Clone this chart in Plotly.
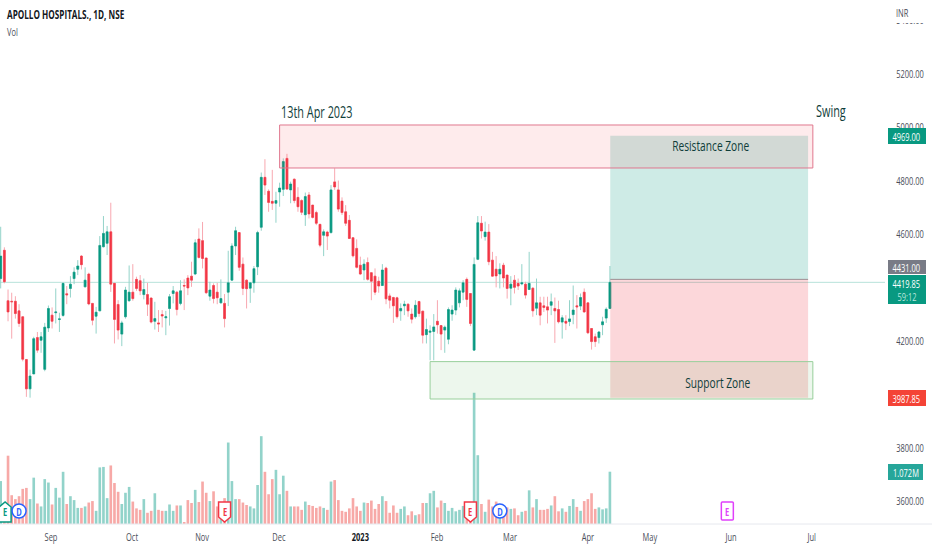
import plotly.graph_objects as go

opens = [4434,4540,4351,4349,4349,4313,4291,4131,4021,4077,
4213,4203,4094,4249,4297,4306,4281,4296,4377,4397,
4434,4469,4518,4403,4451,4341,4293,4313,4553,4566,
4609,4416,4337,4226,4291,4351,4383,4431,4426,4374,
4374,4361,4274,4268,4299,4287,4322,4378,4383,4341,
4408,4436,4443,4451,4582,4576,4511,4368,
4408,4383,4343,4341,4383,4428,4556,4606,4488,4428,
4398,4418,4478,4626,4813,4761,4723,4716,4758,4768,
4884,4766,4806,4738,4726,4673,4747,4709,4681,4637,
4596,4608,4606,4796,4766,4724,4684,4652,4587,4547,
4484,4466,4494,4456,4443,4424,4408,4473,4369,4363,
4362,4313,4332,4338,4301,4291,4348,
4312,4224,4233,4236,4274,4258,4241,4207,4301,4316,
4343,4383,4431,4378,4166,4506,4641,4591,4608,4503,
4469,4451,4484,4447,4398,4428,4416,4414,4413,4393,
4398,4323,4343,4332,4328,4334,4322,4318,4271,4274,
4273,4299,4332,4331,4383,4343,4247,4216,4213,4261,
4286,4322]

highs = [4628,4551,4393,4381,4368,4338,4291,4131,4093,4216,
4234,4234,4268,4333,4326,4397,4306,4418,4406,4443,
4476,4503,4522,4476,4456,4341,4328,4593,4668,4631,
4718,4416,4353,4276,4403,4483,4488,4441,4447,4434,
4418,4363,4347,4316,4316,4313,4376,4406,4388,4428,
4431,4447,4497,4581,4622,4646,4511,4422,
4416,4418,4431,4376,4538,4566,4628,4606,4513,4431,
4418,4481,4613,4831,4881,4768,4841,4759,4793,4884,
4901,4797,4809,4776,4731,4756,4758,4709,4688,4637,
4618,4613,4784,4847,4801,4738,4709,4672,4587,4581,
4516,4506,4513,4456,4472,4441,4488,4478,4378,4366,
4366,4341,4351,4341,4322,4353,4351,
4313,4284,4259,4301,4353,4258,4258,4326,4334,4401,
4397,4428,4438,4378,4513,4668,4668,4647,4638,4534,
4518,4491,4493,4447,4443,4447,4434,4488,4422,4534,
4401,4434,4366,4366,4366,4378,4363,4351,4297,4297,
4353,4408,4372,4378,4397,4343,4247,4228,4238,4291,
4326,4481]

lows = [4397,4416,4274,4209,4284,4253,4124,3991,3988,4077,
4156,4156,4087,4234,4247,4266,4234,4291,4338,4363,
4413,4447,4468,4401,4334,4259,4228,4313,4551,4522,
4384,4191,4206,4181,4284,4347,4351,4388,4372,4356,
4294,4266,4243,4234,4251,4222,4258,4341,4296,4334,
4316,4372,4403,4447,4509,4472,4376,4351,
4341,4338,4341,4251,4331,4426,4522,4463,4372,4322,
4343,4381,4447,4613,4747,4684,4691,4643,4703,4743,
4766,4716,4716,4684,4672,4631,4659,4659,4634,4551,
4518,4541,4603,4766,4684,4672,4631,4582,4513,4472,
4447,4428,4426,4353,4372,4381,4406,4338,4322,4268,
4284,4276,4297,4291,4266,4284,4291,
4191,4191,4128,4128,4228,4166,4156,4188,4276,4297,
4326,4353,4328,4256,4166,4503,4584,4576,4484,4441,
4401,4397,4401,4359,4334,4378,4391,4409,4359,4391,
4291,4297,4259,4309,4266,4297,4193,4266,4209,4241,
4256,4263,4247,4316,4306,4226,4168,4178,4191,4222,
4268,4322]

closes = [4518,4422,4309,4347,4303,4266,4132,4021,4069,4209,
4166,4216,4252,4322,4274,4309,4283,4416,4373,4413,
4458,4481,4486,4428,4339,4278,4308,4558,4603,4609,
4413,4281,4241,4268,4391,4383,4359,4397,4388,4393,
4338,4271,4284,4264,4294,4291,4366,4388,4318,4388,
4406,4399,4428,4568,4513,4509,4381,4391,
4359,4362,4359,4284,4418,4556,4613,4476,4397,4396,
4418,4471,4606,4813,4784,4719,4716,4726,4773,4872,
4769,4788,4726,4703,4682,4741,4676,4663,4641,4559,
4609,4593,4766,4777,4694,4681,4641,4584,4519,4476,
4451,4488,4431,4424,4383,4406,4466,4358,4353,4332,
4291,4322,4338,4313,4282,4334,4303,
4222,4243,4237,4253,4261,4226,4252,4318,4316,4391,
4388,4418,4356,4266,4487,4643,4612,4608,4497,4443,
4444,4469,4436,4397,4413,4401,4406,4418,4372,4416,
4313,4343,4297,4326,4316,4347,4313,4272,4287,4267,
4283,4316,4328,4363,4309,4231,4198,4198,4234,4272,
4319,4419.85]

# volume in millions
volumes = [0.88,0.36,1.40,0.59,0.51,0.57,0.72,0.74,0.51,0.95,
0.42,0.36,0.92,0.85,0.40,0.74,0.54,1.07,0.41,0.57,
0.49,0.33,0.33,0.36,0.44,0.47,0.27,1.16,1.17,0.53,
1.20,0.84,0.66,0.41,0.64,0.76,0.46,0.32,0.29,0.51,
0.23,0.27,0.63,0.29,0.27,0.27,0.40,0.27,0.38,0.38,
0.04,0.49,0.43,0.70,0.45,0.87,0.64,0.47,0.67,0.36,
0.27,0.53,1.67,0.88,0.51,0.51,0.44,0.39,0.36,0.32,
0.80,1.80,1.07,0.61,0.92,1.11,0.61,0.99,0.68,0.36,
0.36,0.36,0.29,0.46,0.39,0.37,0.33,0.36,0.33,0.29,
0.87,0.90,0.49,0.27,0.25,0.32,0.53,0.36,0.27,0.44,
0.43,0.48,0.31,0.41,0.57,0.47,0.23,0.38,0.23,0.31,
0.36,0.18,0.26,0.18,0.20,0.43,0.43,0.63,0.68,0.34,
0.48,0.43,0.27,0.33,0.26,0.29,0.37,0.42,0.39,2.69,
1.41,0.41,0.25,0.50,0.36,0.46,0.36,0.34,0.34,0.31,
0.32,0.18,0.25,0.27,0.69,0.34,0.51,0.29,0.29,0.31,
0.38,0.57,0.26,0.32,0.25,0.37,0.51,0.35,0.27,0.47,
0.51,0.63,0.31,0.34,0.30,0.32,1.072]

bars = list(range(len(closes)))

month_bars = [13.7, 35.8, 54.9, 75.8, 98, 118.9, 138.8, 160, 176.9, 199, 221]
month_labels = ["Sep", "Oct", "Nov", "Dec", "<span style='color:#131722'><b>2023</b></span>",
                "Feb", "Mar", "Apr", "May", "Jun", "Jul"]

price_ticks = [3600, 3800, 4200, 4600, 4800, 5000, 5200, 5400]

entry_price = 4431
target_price = 4969
stop_price = 3987.85
last_price = 4419.85
last_volume = "1.072M"

GREEN = "#089981"
RED = "#f23645"
FONT = "Open Sans, sans-serif"
PLOT_W = 885
PLOT_H = 524

wick_colors = dict(inc="#93d3c9", dec="#f8a8b0")
vol_colors = ["#92d3ca" if c >= o else "#f7a9a7" for o, c in zip(opens, closes)]

fig = go.Figure()

fig.add_trace(go.Bar(x=bars, y=volumes, marker=dict(color=vol_colors, line_width=0),
                     width=0.72, yaxis="y"))

# wicks first, bodies over them so the wicks can stay paler
fig.add_trace(go.Candlestick(
    x=bars, open=opens, high=highs, low=lows, close=closes, yaxis="y2",
    whiskerwidth=0,
    increasing=dict(line=dict(color=wick_colors["inc"], width=1), fillcolor=wick_colors["inc"]),
    decreasing=dict(line=dict(color=wick_colors["dec"], width=1), fillcolor=wick_colors["dec"]),
))
fig.add_trace(go.Candlestick(
    x=bars, open=opens, close=closes, yaxis="y2",
    high=[max(o, c) for o, c in zip(opens, closes)],
    low=[min(o, c) for o, c in zip(opens, closes)],
    whiskerwidth=0,
    increasing=dict(line=dict(color=GREEN, width=0.5), fillcolor=GREEN),
    decreasing=dict(line=dict(color=RED, width=0.5), fillcolor=RED),
))

fig.update_layout(
    width=932, height=550,
    margin=dict(l=0, r=932 - PLOT_W, t=0, b=550 - PLOT_H, autoexpand=False),
    paper_bgcolor="white", plot_bgcolor="white",
    showlegend=False,
    boxgap=0.28,
    font=dict(family=FONT, color="#4a4e59", size=11),
    xaxis=dict(range=[-0.19, 240.96], rangeslider_visible=False, showgrid=False, zeroline=False,
               automargin=False, tickmode="array", tickvals=month_bars, ticktext=month_labels,
               ticks="outside", ticklen=3, tickcolor="rgba(0,0,0,0)",
               tickfont=dict(size=11, color="#4a4e59")),
    yaxis=dict(range=[0, 10.74], visible=False, fixedrange=True, automargin=False),
    yaxis2=dict(range=[3515, 5477], overlaying="y", side="right", showgrid=False, zeroline=False,
                automargin=False, tickmode="array", tickvals=price_ticks, tickformat=".2f",
                ticks="outside", ticklen=8, tickcolor="rgba(0,0,0,0)",
                tickfont=dict(size=11, color="#4a4e59")),
)

# last price line
fig.add_shape(type="line", xref="paper", yref="y2", x0=0, x1=1, y0=last_price, y1=last_price,
              line=dict(color="#b7e2da", width=1), layer="below")
# bottom border of the pane
fig.add_shape(type="line", xref="paper", yref="paper", x0=0, x1=932 / PLOT_W, y0=0, y1=0,
              line=dict(color="#e6e8ee", width=1))

# long position tool
fig.add_shape(type="rect", xref="x", yref="y2", x0=166.1, x1=220, y0=entry_price, y1=target_price,
              fillcolor="rgba(8,153,129,0.2)", line_width=0)
fig.add_shape(type="rect", xref="x", yref="y2", x0=166.1, x1=220, y0=stop_price, y1=entry_price,
              fillcolor="rgba(242,54,69,0.2)", line_width=0)
fig.add_shape(type="line", xref="x", yref="y2", x0=166.1, x1=220, y0=entry_price, y1=entry_price,
              line=dict(color="#9c8f92", width=1))

# zones
fig.add_shape(type="rect", xref="x", yref="y2", x0=76, x1=221.3, y0=4848, y1=5009,
              fillcolor="rgba(242,54,69,0.1)", line=dict(color="#e0788f", width=1))
fig.add_shape(type="rect", xref="x", yref="y2", x0=117, x1=221.3, y0=3983, y1=4123,
              fillcolor="rgba(76,175,80,0.1)", line=dict(color="#98cf9b", width=1))


def note(text, x, y, size=15, color="#0f3d3a", xref="x", yref="y2", xanchor="center"):
    # align matters here: the squeeze below shrinks text towards its text-anchor
    align = "left" if xanchor == "left" else "center"
    fig.add_annotation(text=text, x=x, y=y, xref=xref, yref=yref, showarrow=False,
                       xanchor=xanchor, yanchor="middle", align=align,
                       font=dict(size=size, color=color, family=FONT))


note("13th Apr 2023", 75.8, 5058, xanchor="left", size=16)
note("Swing", 221.6, 5061, xanchor="left", size=16)
note("Resistance Zone", 193.3, 4934)
note("Support Zone", 195.2, 4047)

note("<b>APOLLO HOSPITALS., 1D, NSE</b>", 5 / PLOT_W, 1 - 15 / PLOT_H, size=12, color="#131722",
     xref="paper", yref="paper", xanchor="left")
note("Vol", 5 / PLOT_W, 1 - 31 / PLOT_H, size=11, color="#4a4e59",
     xref="paper", yref="paper", xanchor="left")


def flag(py, h, bg, w=38):
    # label box on the price scale, px from the top of the chart
    fig.add_shape(type="rect", xref="paper", yref="paper", layer="above",
                  x0=888 / PLOT_W, x1=(888 + w) / PLOT_W,
                  y0=1 - (py + h / 2) / PLOT_H, y1=1 - (py - h / 2) / PLOT_H,
                  fillcolor=bg, line_width=0)


def flag_text(text, py, color="white", w=38):
    note(text, (888 + w / 2) / PLOT_W, 1 - py / PLOT_H, size=11, color=color,
         xref="paper", yref="paper")


flag(136, 16, GREEN)
flag_text(f"{target_price:.2f}", 136)
flag(267, 14, "#787b86")
flag_text(f"{entry_price:.2f}", 267)
flag(289.5, 29, GREEN)
flag_text(f"{last_price:.2f}", 283)
flag_text("59:12", 296, color="#b9e6dd")
flag(398, 16, "#f44336")
flag_text(f"{stop_price:.2f}", 398)
flag(472, 16, "#26a69a", w=35)
flag_text(last_volume, 472, w=35)
flag(13.5, 19, "white")
note("INR", 894 / PLOT_W, 1 - 12 / PLOT_H, size=11, color="#4a4e59",
     xref="paper", yref="paper", xanchor="left")

# earnings and dividend markers, bar index + letter
event_bars = [1.2, 5, 61, 128, 136, 198]
event_letters = ["E", "D", "E", "E", "D", "E"]
event_styles = ["up", "circle", "down", "down", "circle", "square"]
style_colors = {"up": GREEN, "down": RED, "circle": "#2962ff", "square": "#e040fb"}
style_paths = {"up": "M-6,-11 L6,-11 L6,4 L0,9 L-6,4 Z",
               "down": "M-6,9 L6,9 L6,-6 L0,-11 L-6,-6 Z",
               "square": "M-5,9 L5,9 Q6,9 6,8 L6,-8 Q6,-9 5,-9 L-5,-9 Q-6,-9 -6,-8 L-6,8 Q-6,9 -5,9 Z"}
event_y = 13 / PLOT_H

for bar, letter, style in zip(event_bars, event_letters, event_styles):
    color = style_colors[style]
    if style == "circle":
        fig.add_shape(type="circle", xref="x", yref="paper", xsizemode="pixel", ysizemode="pixel",
                      xanchor=bar, yanchor=event_y, x0=-7, x1=7, y0=-7, y1=7,
                      fillcolor="white", line=dict(color=color, width=1.5))
    else:
        fig.add_shape(type="path", xref="x", yref="paper", xsizemode="pixel", ysizemode="pixel",
                      xanchor=bar, yanchor=event_y, path=style_paths[style],
                      fillcolor="white", line=dict(color=color, width=1.5))
    note(f"<b>{letter}</b>", bar, event_y, size=11, color=color, xref="x", yref="paper")

# the reference font is narrow and none of the installed ones are, so squeeze the text
squeeze = """
document.body.style.margin = '0';
document.querySelectorAll('.main-svg text').forEach(function (t) {
    var w = t.getComputedTextLength();
    if (w > 0) {
        t.setAttribute('textLength', w * 0.68);
        t.setAttribute('lengthAdjust', 'spacingAndGlyphs');
    }
});
"""

fig.write_html("out.html", config=dict(displayModeBar=False), post_script=squeeze)
